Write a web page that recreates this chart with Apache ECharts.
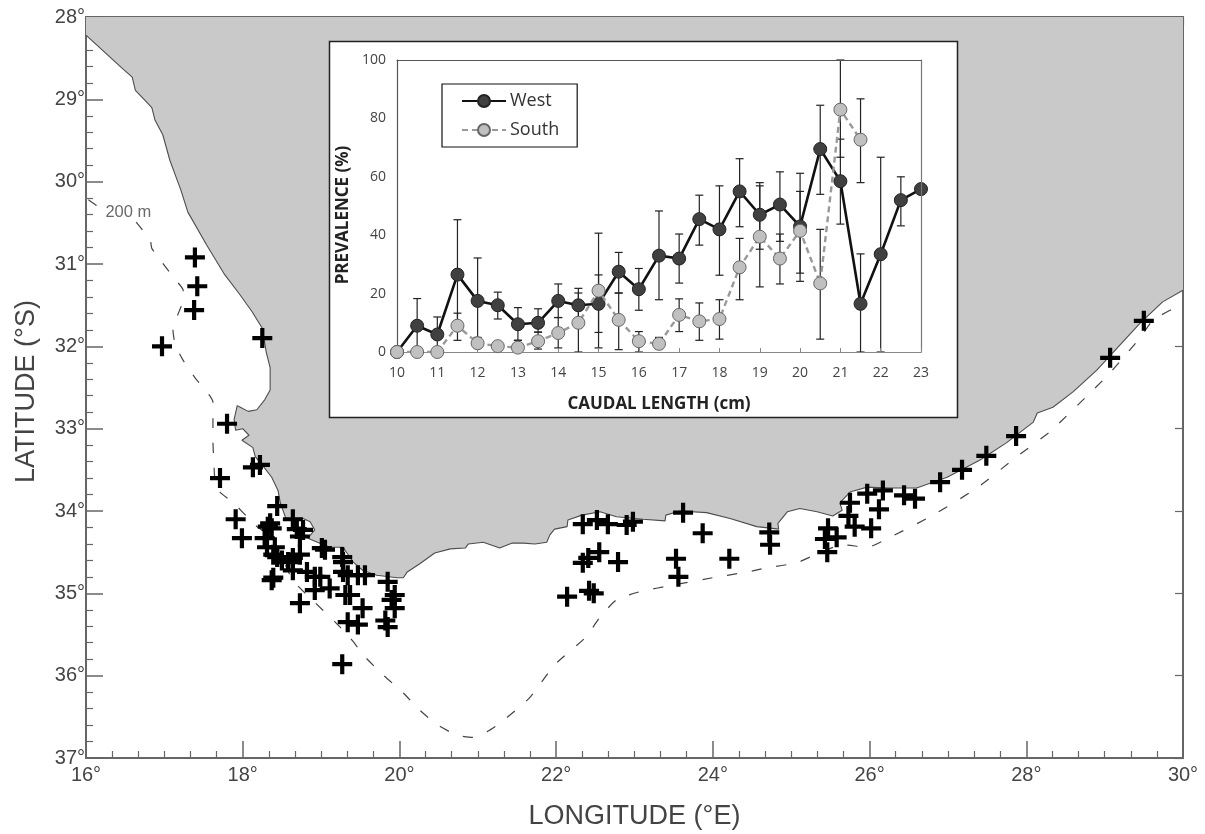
<!DOCTYPE html>
<html>
<head>
<meta charset="utf-8">
<style>html,body{margin:0;padding:0;background:#fff}#c{width:1205px;height:834px}</style>
<script src="https://cdn.jsdelivr.net/npm/echarts@6/dist/echarts.min.js"></script>
</head>
<body>
<div id="c"></div>
<script>
// ---- Map data: [longitude E, latitude S] ----
const coastline = [[16,28.22],[16.47,28.63],[16.59,28.73],[16.63,28.89],[16.75,29.01],[16.84,29.10],[16.88,29.25],[16.98,29.43],[17.07,29.74],[17.14,29.92],[17.21,30.10],[17.30,30.37],[17.54,30.77],[17.77,31.13],[17.97,31.38],[18.12,31.58],[18.25,31.78],[18.30,32.07],[18.35,32.26],[18.35,32.53],[18.28,32.65],[18.18,32.77],[18.07,32.79],[17.97,32.74],[17.93,32.72],[17.89,32.89],[17.91,33.02],[18.0,33.0],[18.08,33.08],[17.99,33.14],[18.13,33.23],[18.16,33.34],[18.28,33.48],[18.37,33.59],[18.45,33.75],[18.48,33.90],[18.55,34.09],[18.77,34.09],[18.86,34.13],[18.92,34.23],[18.83,34.33],[19.11,34.44],[19.28,34.44],[19.41,34.62],[19.53,34.72],[19.71,34.78],[19.97,34.81],[20.05,34.81],[20.10,34.74],[20.26,34.64],[20.45,34.51],[20.65,34.46],[20.84,34.45],[20.88,34.40],[21.07,34.38],[21.28,34.45],[21.44,34.39],[21.58,34.39],[21.73,34.40],[21.88,34.38],[21.92,34.29],[21.98,34.22],[22.14,34.19],[22.15,34.11],[22.33,34.05],[22.56,34.01],[22.77,34.07],[23.11,34.10],[23.39,34.12],[23.40,34.05],[23.58,34.00],[23.92,34.02],[24.22,34.09],[24.56,34.19],[24.84,34.22],[24.83,34.15],[24.95,34.01],[25.11,33.97],[25.33,34.01],[25.53,34.06],[25.65,33.99],[25.62,33.90],[25.75,33.77],[25.97,33.71],[26.26,33.72],[26.60,33.72],[26.99,33.59],[27.41,33.38],[27.75,33.17],[28.09,32.92],[28.14,32.81],[28.34,32.74],[28.60,32.55],[28.90,32.29],[29.20,31.98],[29.45,31.72],[29.74,31.46],[30,31.32]];
const landCorners = [[30,28],[16,28]];
const isobathNorth = [[16.03,30.22],[16.18,30.32]];
const isobathMain = [[16.64,30.49],[16.82,30.71],[16.84,30.81],[16.98,30.99],[17.14,31.19],[17.24,31.32],[17.23,31.47],[17.11,31.80],[17.14,31.98],[17.24,32.17],[17.39,32.38],[17.62,32.68],[17.62,32.90],[17.62,33.14],[17.63,33.38],[17.65,33.66],[17.71,33.77],[17.88,33.90],[18.16,34.17],[18.39,34.35],[18.64,34.84],[18.92,35.11],[19.18,35.35],[19.37,35.54],[19.56,35.77],[19.79,35.99],[20.05,36.21],[20.26,36.42],[20.49,36.60],[20.73,36.72],[20.94,36.75],[21.12,36.68],[21.28,36.58],[21.66,36.27],[21.98,35.87],[22.37,35.54],[22.56,35.29],[22.77,35.08],[23.07,34.98],[23.49,34.90],[24.0,34.81],[24.44,34.74],[24.69,34.69],[25.07,34.63],[25.24,34.56],[25.66,34.41],[25.97,34.44],[26.26,34.32],[26.81,34.05],[27.37,33.72],[27.88,33.34],[28.30,33.04],[28.39,32.96],[28.81,32.57],[29.07,32.32],[29.45,31.90],[29.62,31.68],[29.96,31.50],[30,31.47]];
const isobathLabel = [[16.54,30.37,'200 m']];
const stations = [[17.39,30.92],[17.42,31.27],[17.38,31.56],[16.97,32.0],[18.25,31.90],[17.80,32.94],[17.71,33.60],[18.13,33.47],[18.22,33.44],[18.44,33.94],[17.91,34.10],[17.99,34.33],[18.35,34.15],[18.32,34.19],[18.28,34.33],[18.37,34.21],[18.31,34.44],[18.41,34.44],[18.44,34.56],[18.39,34.53],[18.50,34.60],[18.39,34.81],[18.37,34.84],[18.64,34.10],[18.69,34.22],[18.77,34.23],[18.73,34.31],[19.01,34.45],[19.05,34.47],[19.27,34.56],[19.28,34.62],[18.73,34.53],[18.64,34.57],[18.58,34.62],[18.64,34.72],[18.73,35.12],[18.82,34.74],[18.92,34.80],[18.99,34.80],[18.92,34.96],[19.11,34.94],[19.34,34.78],[19.47,34.78],[19.56,34.78],[19.28,34.74],[19.31,35.02],[19.37,35.02],[19.53,35.18],[19.34,35.35],[19.47,35.38],[19.27,35.86],[19.85,34.86],[19.94,35.02],[19.94,35.18],[19.82,35.33],[19.85,35.41],[19.90,35.08],[22.34,34.16],[22.52,34.11],[22.66,34.16],[22.90,34.17],[22.98,34.13],[22.55,34.50],[22.41,34.57],[22.34,34.63],[22.79,34.62],[22.42,34.97],[22.48,35.0],[22.14,35.04],[23.53,34.58],[23.56,34.80],[23.62,34.02],[23.87,34.27],[24.21,34.58],[24.72,34.26],[24.73,34.41],[25.46,34.50],[25.43,34.34],[25.47,34.21],[25.58,34.32],[25.73,34.06],[25.75,33.90],[25.81,34.19],[26.02,34.21],[25.97,33.79],[26.17,33.75],[26.12,33.98],[26.44,33.81],[26.58,33.85],[26.90,33.65],[27.18,33.50],[27.49,33.33],[27.87,33.09],[29.07,32.14],[29.50,31.69]];

// ---- Inset data ----
const lengths = [10,10.5,11,11.5,12,12.5,13,13.5,14,14.5,15,15.5,16,16.5,17,17.5,18,18.5,19,19.5,20,20.5,21,21.5,22,22.5,23];
const westPrev = [0,9,6,26.5,17.5,16,9.5,10,17.5,16,16.5,27.5,21.5,33,32,45.5,42,55,47,50.5,43,69.5,58.5,16.5,33.5,52,55.8];
const southPrev = [0,0,0,9,3,2,1.5,3.7,6.5,10,21,11,3.7,2.8,12.7,10.5,11.3,29,39.5,32,41.5,23.5,83,72.7,null,null,null];
const westHigh = [null,18.3,12,45.3,32.2,20.5,15.2,14.8,23.3,21.8,26.4,34.1,28.6,48.3,40.4,53.7,56.9,66.2,58,61.7,61.2,84.5,72.9,33.6,66.7,60,null];
const westLow = [null,0,0,7.7,3,11.3,4,6.8,11.8,10.2,6.7,20.2,14.3,17.9,23.6,36.6,26.3,42.9,35.2,37.9,27,54,43.8,0,0,43.2,null];
const southHigh = [null,null,null,13.3,5,3,4,6.8,11.8,20.2,40.7,20.2,7,5,18.2,16.8,17.9,38.9,56.9,40.4,55,42,100,86.7,null,null,null];
const southLow = [null,null,null,4,1.5,1,0,1,1.4,0,1.4,0.8,0,1,7,4,4.4,17.9,22.3,23.3,24.2,4.4,66.7,58,null,null,null];
const lengthTickStep = 1;
const prevalenceTickStep = 20;

const crossSymbol = 'path://M7.9,0H12.1V7.9H20V12.1H12.1V20H7.9V12.1H0V7.9H7.9Z';
const pair = (xs, ys) => xs.map((x, i) => [x, ys[i] === null ? '-' : ys[i]]);
const bars = (xs, lo, hi) => xs.map((x, i) => [x, lo[i], hi[i]]).filter(r => r[1] !== null && r[2] !== null);

function errorBarRender(color) {
  return function (params, api) {
    const x = api.value(0);
    const a = api.coord([x, api.value(1)]);
    const b = api.coord([x, api.value(2)]);
    const cap = 4;
    const s = {stroke: color, lineWidth: 1.2, fill: null};
    return {type: 'group', children: [
      {type: 'line', shape: {x1: a[0], y1: a[1], x2: b[0], y2: b[1]}, style: s},
      {type: 'line', shape: {x1: a[0]-cap, y1: a[1], x2: a[0]+cap, y2: a[1]}, style: s},
      {type: 'line', shape: {x1: b[0]-cap, y1: b[1], x2: b[0]+cap, y2: b[1]}, style: s}
    ]};
  };
}
function landRender(params, api) {
  const pts = coastline.concat(landCorners).map(p => api.coord(p));
  return {type: 'polygon', shape: {points: pts}, style: {fill: '#c9c9c9', stroke: null}};
}

const mapFont = 'Liberation Sans';
const insetFont = 'Open Sans';
const axisGrey = '#666666';
const textGrey = '#444444';

const chart = echarts.init(document.getElementById('c'), null, {renderer: 'canvas'});
chart.setOption({
  animation: false,
  backgroundColor: '#ffffff',
  grid: [
    {left: 86, right: 22, top: 17, bottom: 76, outerBoundsMode: 'none'},
    {left: 397, right: 284, top: 60, bottom: 482, outerBoundsMode: 'none'}
  ],
  graphic: {z: 5, elements: [{
    type: 'rect', z: 5,
    shape: {x: 329.5, y: 41.5, width: 628, height: 376},
    style: {fill: '#ffffff', stroke: '#222222', lineWidth: 1.5}
  }]},
  legend: {
    z: 20, left: 442, top: 84, orient: 'vertical',
    data: ['West', 'South'], selectedMode: false,
    itemWidth: 44, itemHeight: 15, itemGap: 11,
    padding: [8, 18, 8, 19],
    borderColor: '#111111', borderWidth: 1.2, backgroundColor: '#ffffff',
    textStyle: {fontFamily: insetFont, fontSize: 18, color: '#333333', padding: [0, 0, 0, -1]}
  },
  xAxis: [
    {gridIndex: 0, type: 'value', min: 16, max: 30, interval: 2, position: 'bottom',
     name: 'LONGITUDE (°E)', nameLocation: 'middle', nameGap: 45,
     nameTextStyle: {fontFamily: mapFont, fontSize: 27, color: textGrey},
     axisLine: {onZero: false, lineStyle: {color: axisGrey, width: 2}},
     axisTick: {inside: true, length: 17, lineStyle: {color: axisGrey, width: 1.5}},
     minorTick: {show: true, splitNumber: 6, length: 7, lineStyle: {color: axisGrey, width: 1.2}},
     axisLabel: {formatter: '{value}°', fontFamily: mapFont, fontSize: 20, color: textGrey, margin: 7},
     splitLine: {show: false}},
    {gridIndex: 0, type: 'value', min: 16, max: 30, interval: 1, position: 'top',
     axisLine: {onZero: false, lineStyle: {color: axisGrey, width: 2}},
     axisTick: {inside: true, length: 8, lineStyle: {color: axisGrey, width: 1.2}},
     axisLabel: {show: false}, splitLine: {show: false}},
    {gridIndex: 1, z: 12, type: 'value', min: 10, max: 23, interval: lengthTickStep, position: 'bottom',
     name: 'CAUDAL LENGTH (cm)', nameLocation: 'middle', nameGap: 44,
     nameTextStyle: {fontFamily: insetFont, fontSize: 17, fontWeight: 'bold', color: '#222222'},
     axisLine: {onZero: false, lineStyle: {color: '#888888', width: 1.2}},
     axisTick: {inside: true, length: 4, lineStyle: {color: '#888888', width: 1}},
     axisLabel: {fontFamily: insetFont, fontSize: 14, color: textGrey, margin: 14},
     splitLine: {show: false}},
    {gridIndex: 1, z: 12, type: 'value', min: 10, max: 23, position: 'top',
     axisLine: {onZero: false, lineStyle: {color: '#555555', width: 1.2}},
     axisTick: {show: false}, axisLabel: {show: false}, splitLine: {show: false}}
  ],
  yAxis: [
    {gridIndex: 0, type: 'value', min: 28, max: 37, interval: 1, inverse: true, position: 'left',
     name: 'LATITUDE (°S)', nameLocation: 'middle', nameGap: 46,
     nameTextStyle: {fontFamily: mapFont, fontSize: 27, color: textGrey, padding: [0, 8, 0, 0]},
     axisLine: {onZero: false, lineStyle: {color: axisGrey, width: 2}},
     axisTick: {inside: true, length: 17, lineStyle: {color: axisGrey, width: 1.5}},
     minorTick: {show: true, splitNumber: 5, length: 7, lineStyle: {color: axisGrey, width: 1.2}},
     axisLabel: {formatter: '{value}°', fontFamily: mapFont, fontSize: 20, color: textGrey, margin: 1},
     splitLine: {show: false}},
    {gridIndex: 0, type: 'value', min: 28, max: 37, interval: 1, inverse: true, position: 'right',
     axisLine: {onZero: false, lineStyle: {color: axisGrey, width: 2}},
     axisTick: {inside: true, length: 8, lineStyle: {color: axisGrey, width: 1.2}},
     axisLabel: {show: false}, splitLine: {show: false}},
    {gridIndex: 1, z: 12, type: 'value', min: 0, max: 100, interval: prevalenceTickStep, position: 'left',
     name: 'PREVALENCE (%)', nameLocation: 'middle', nameGap: 45,
     nameTextStyle: {fontFamily: insetFont, fontSize: 17, fontWeight: 'bold', color: '#222222', padding: [0, 18, 0, 0]},
     axisLine: {onZero: false, lineStyle: {color: '#555555', width: 1.2}},
     axisTick: {show: false},
     axisLabel: {fontFamily: insetFont, fontSize: 14, color: textGrey, margin: 11},
     splitLine: {show: false}},
    {gridIndex: 1, z: 12, type: 'value', min: 0, max: 100, position: 'right',
     axisLine: {onZero: false, lineStyle: {color: '#777777', width: 1.2}},
     axisTick: {show: false}, axisLabel: {show: false}, splitLine: {show: false}}
  ],
  series: [
    {name: 'land', type: 'custom', z: 1, xAxisIndex: 0, yAxisIndex: 0, silent: true,
     renderItem: landRender, data: [landCorners[0]], clip: true},
    {name: 'coast', type: 'line', z: 2, xAxisIndex: 0, yAxisIndex: 0, data: coastline, symbol: 'none', silent: true,
     lineStyle: {color: '#4d4d4d', width: 1.1}},
    {name: 'shelfN', type: 'line', z: 2, xAxisIndex: 0, yAxisIndex: 0, data: isobathNorth, symbol: 'none', silent: true,
     lineStyle: {color: '#444444', width: 1.1, type: [10, 15]}},
    {name: 'shelf', type: 'line', z: 2, xAxisIndex: 0, yAxisIndex: 0, data: isobathMain, symbol: 'none', silent: true, smooth: 0.2,
     lineStyle: {color: '#444444', width: 1.2, type: [10, 15]}},
    {name: '200 m', type: 'scatter', z: 3, xAxisIndex: 0, yAxisIndex: 0, data: isobathLabel, symbolSize: 1, silent: true,
     itemStyle: {color: 'rgba(0,0,0,0)'},
     label: {show: true, position: 'inside', formatter: p => p.value[2], fontFamily: mapFont, fontSize: 16.5, color: '#444444'}},
    {name: 'stations', type: 'scatter', z: 4, xAxisIndex: 0, yAxisIndex: 0, data: stations, silent: true,
     symbol: crossSymbol, symbolSize: 20, itemStyle: {color: '#000000', opacity: 1}},
    {name: 'westErr', type: 'custom', z: 10, xAxisIndex: 2, yAxisIndex: 2, silent: true,
     renderItem: errorBarRender('#222222'), data: bars(lengths, westLow, westHigh), clip: false},
    {name: 'southErr', type: 'custom', z: 10, xAxisIndex: 2, yAxisIndex: 2, silent: true,
     renderItem: errorBarRender('#222222'), data: bars(lengths, southLow, southHigh), clip: false},
    {name: 'West', type: 'line', z: 11, xAxisIndex: 2, yAxisIndex: 2, data: pair(lengths, westPrev),
     symbol: 'circle', symbolSize: 13, showAllSymbol: true,
     lineStyle: {color: '#111111', width: 2.6},
     itemStyle: {color: '#404040', borderColor: '#222222', borderWidth: 1}},
    {name: 'South', type: 'line', z: 12, xAxisIndex: 2, yAxisIndex: 2, data: pair(lengths, southPrev),
     symbol: 'circle', symbolSize: 13, showAllSymbol: true,
     lineStyle: {color: '#999999', width: 2.4, type: [6, 4]},
     itemStyle: {color: '#c0c0c0', borderColor: '#666666', borderWidth: 1}}
  ]
});
</script>
</body>
</html>
